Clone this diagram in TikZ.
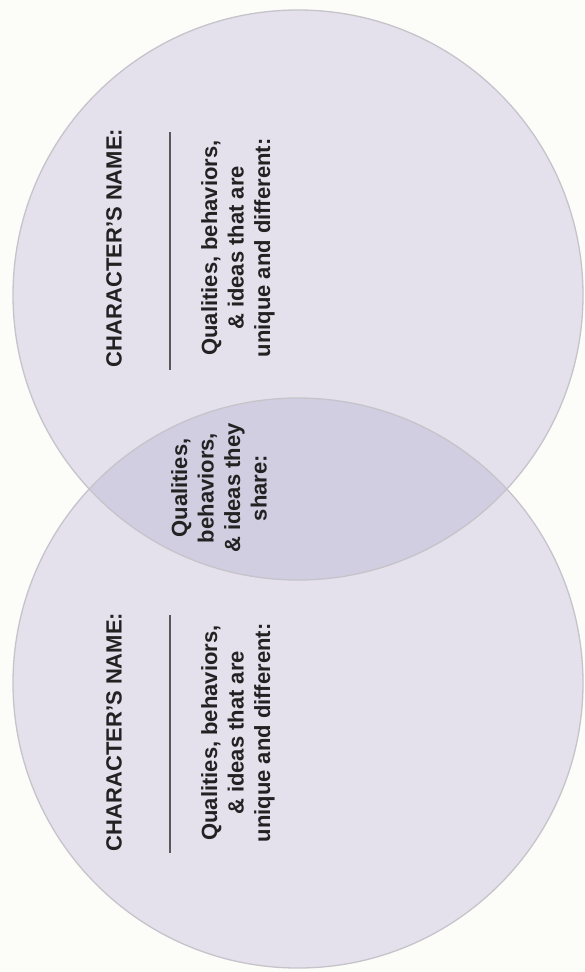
\documentclass[tikz,border=0pt]{standalone}
\usepackage{fontspec}
\setmainfont{Liberation Sans}
\definecolor{paper}{HTML}{FCFCF9}
\definecolor{ringlilac}{HTML}{E4E1EC}
\definecolor{lenslilac}{HTML}{D0CEE0}
\definecolor{ringedge}{HTML}{C6C4CA}
\definecolor{inkgray}{HTML}{222222}
\tikzset{
	ring/.style={fill=ringlilac},
	ringline/.style={draw=ringedge, line width=1.3pt},
	namerule/.style={line width=1.2pt, color=black!65},
	headtext/.style={rotate=90, inner sep=0pt, text=inkgray, font=\bfseries\fontsize{22}{26}\selectfont},
	bodytext/.style={rotate=90, inner sep=0pt, align=center, text=inkgray, font=\bfseries\fontsize{22}{26.5}\selectfont},
}
\begin{document}
\begin{tikzpicture}[x=1pt, y=-1pt]
		%%%%% START %%%%%
		
		\fill[paper] (0, 0) rectangle (584, 972);
		\useasboundingbox (0, 0) rectangle (584, 972);
		
		\fill[ring] (298, 295) circle (285);
		\fill[ring] (298, 683) circle (285);
		\begin{scope}
			\clip (298, 295) circle (285);
			\fill[lenslilac] (298, 683) circle (285);
		\end{scope}
		\draw[ringline] (298, 295) circle (285);
		\draw[ringline] (298, 683) circle (285);
		
		% upper character
		\node[headtext] (nameA) at (114, 248) {CHARACTER'S NAME:};
		\draw[namerule] (170, 132) -- (170, 370);
		\node[bodytext] (uniqueA) at (238, 248) {Qualities, behaviors,\\ \& ideas that are\\ unique and different:};
		
		% shared part
		\node[bodytext] (shared) at (219, 488) {Qualities,\\ behaviors,\\ \& ideas they\\ share:};
		
		% lower character
		\node[headtext] (nameB) at (114, 732) {CHARACTER'S NAME:};
		\draw[namerule] (170, 615) -- (170, 853);
		\node[bodytext] (uniqueB) at (238, 733) {Qualities, behaviors,\\ \& ideas that are\\ unique and different:};
		
		%%%%% END %%%%%
\end{tikzpicture}
\end{document}
